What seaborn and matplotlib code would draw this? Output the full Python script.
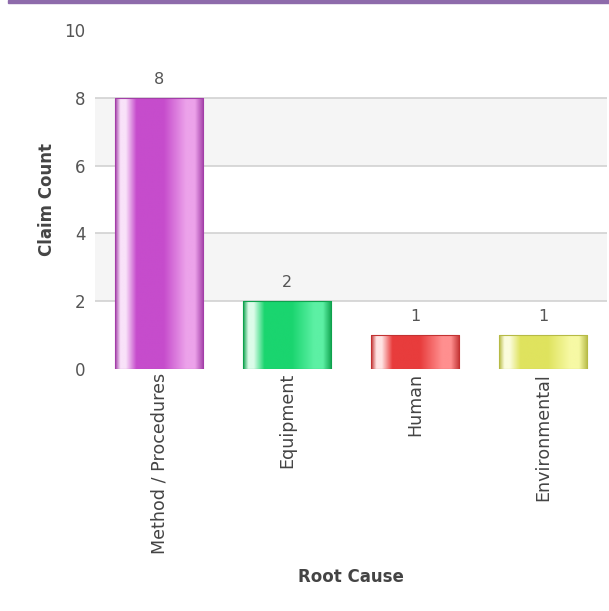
import numpy as np
import pandas as pd
import matplotlib
matplotlib.use("Agg")
import matplotlib.pyplot as plt
from matplotlib.colors import LinearSegmentedColormap
from matplotlib.patches import Rectangle
import seaborn as sns

categories = ["Method / Procedures", "Equipment", "Human", "Environmental"]
counts = [8, 2, 1, 1]
y_ticks = [0, 2, 4, 6, 8, 10]
base_colors = ["#c64ccc", "#1ad56f", "#e83c3c", "#dfe35e"]
light_colors = ["#eca2ea", "#5cf0a4", "#ff8f8f", "#f7f9a4"]
dark_colors = ["#a33ea8", "#0ea24d", "#c23232", "#b6ba45"]
glint_colors = ["#f9e2f9", "#dcfce9", "#ffe3e3", "#fbfcdc"]

sns.set_theme(style="white")
plt.rcParams['font.family'] = ['DejaVu Sans']

fig = plt.figure(figsize=(6.09, 6.11), dpi=100)
ax = fig.add_axes([95/609, 242/611, 512/609, 339/611])

df = pd.DataFrame({"cause": categories, "count": counts})
sns.barplot(data=df, x="cause", y="count", hue="cause", palette=base_colors,
            width=0.69, legend=False, ax=ax, zorder=3, linewidth=0)

ax.set_ylim(0, 10)
ax.set_xlim(-0.5, len(categories) - 0.5)

# alternating bands and grid
for lo in [2, 6]:
    ax.axhspan(lo, lo + 2, color="#f5f5f5", zorder=0, lw=0)
for yv in [2, 4, 6, 8]:
    ax.axhline(yv, color="#d2d2d2", lw=1.2, zorder=1)

# cylindrical gradient on bars
for i, patch in enumerate(ax.patches[:len(categories)]):
    x0 = patch.get_x(); w = patch.get_width(); h = patch.get_height()
    cmap = LinearSegmentedColormap.from_list(
        f"c{i}",
        [(0.0, dark_colors[i]), (0.06, glint_colors[i]), (0.12, glint_colors[i]),
         (0.24, base_colors[i]), (0.55, base_colors[i]), (0.8, light_colors[i]),
         (0.9, light_colors[i]), (1.0, dark_colors[i])])
    grad = np.linspace(0, 1, 256).reshape(1, -1)
    im = ax.imshow(grad, cmap=cmap, aspect="auto", extent=[x0, x0 + w, 0, h],
                   zorder=4, interpolation="bilinear")
    im.set_clip_path(patch)
    ax.add_patch(Rectangle((x0, 0), w, h, fill=False, edgecolor=dark_colors[i],
                           lw=0.8, zorder=5))
    ax.text(x0 + w / 2, h + 0.42, f"{counts[i]}", ha="center", va="baseline",
            fontsize=11.5, color="#555555", zorder=6)

ax.set_xlim(-0.5, len(categories) - 0.5)
ax.set_ylim(0, 10)

for s in ax.spines.values():
    s.set_visible(False)

ax.set_yticks(y_ticks)
ax.set_yticklabels([str(v) for v in y_ticks], fontsize=12, color="#555555")
ax.tick_params(axis="y", length=0, pad=7)
ax.set_xticks(range(len(categories)))
ax.set_xticklabels(categories, rotation=90, fontsize=12.6, color="#444444",
                   ha="center", va="top")
ax.tick_params(axis="x", length=0, pad=3)

ax.set_ylabel("Claim Count", fontsize=12, fontweight="bold", color="#444444")
ax.set_xlabel("Root Cause", fontsize=12, fontweight="bold", color="#444444")
ax.xaxis.set_label_coords(0.5, -(577 - 369) / 339)
ax.xaxis.label.set_va("center")
ax.yaxis.set_label_coords(-(95 - 47) / 512, 0.5)
ax.yaxis.label.set_va("center")

# top accent strip
fig.patches.append(Rectangle((8/609, 1 - 3/611), 601/609, 3/611, transform=fig.transFigure,
                             color="#8e6bab", figure=fig, zorder=10))

fig.savefig("out.png", dpi=100)
